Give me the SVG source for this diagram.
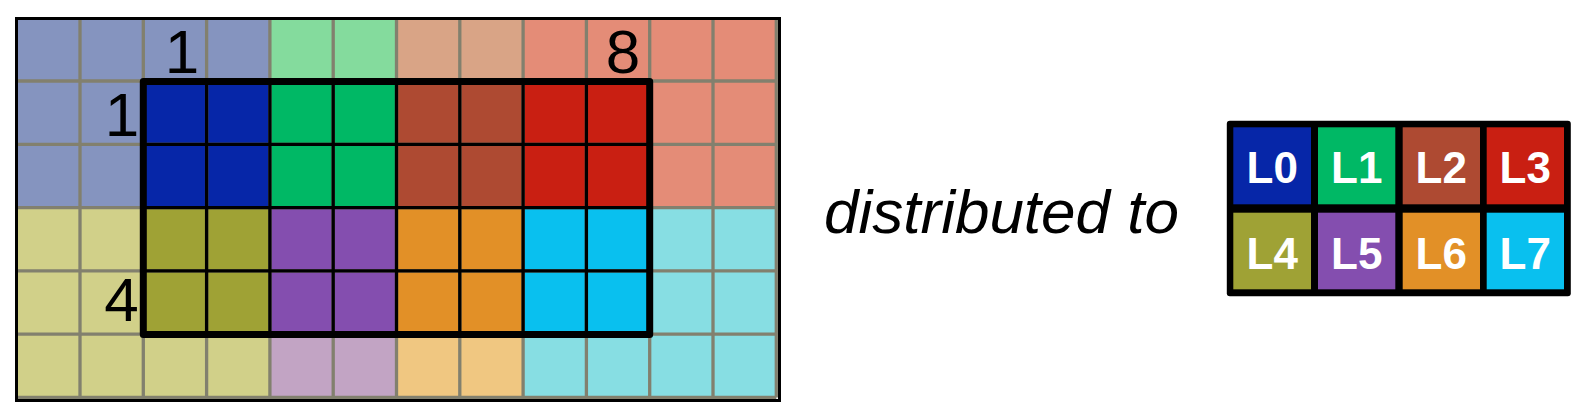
<svg xmlns="http://www.w3.org/2000/svg" width="1586" height="414" viewBox="0 0 1586 414">
<style>
.lb{fill:#8594BF}.lg{fill:#84DB9D}.ln{fill:#D9A486}.lr{fill:#E48C77}
.lo{fill:#D1D089}.lp{fill:#C2A4C4}.lor{fill:#F0C781}.lc{fill:#87DEE3}
.b{fill:#0626A8}.g{fill:#00B865}.n{fill:#AE4A32}.r{fill:#C91F12}
.o{fill:#9FA235}.p{fill:#844EAF}.or{fill:#E29027}.c{fill:#09C0EF}
.gl{stroke:#82806E;stroke-width:3.3;fill:none}
.bl{stroke:#000;stroke-width:3.3;fill:none}
.num{font-family:"Liberation Sans",Arial,sans-serif;font-size:62px;fill:#000;text-anchor:middle}
.lab{font-family:"Liberation Sans",Arial,sans-serif;font-size:44px;font-weight:bold;fill:#fff;text-anchor:middle}
</style>
<rect width="1586" height="414" fill="#fff"/>
<g id="grid">
  <g id="halo">
    <rect class="lb" x="16.7" y="17.7" width="253.2" height="189.9"/>
    <rect class="lg" x="269.9" y="17.7" width="126.6" height="63.3"/>
    <rect class="ln" x="396.5" y="17.7" width="126.6" height="63.3"/>
    <rect class="lr" x="523.1" y="17.7" width="253.2" height="189.9"/>
    <rect class="lo" x="16.7" y="207.6" width="253.2" height="189.9"/>
    <rect class="lp" x="269.9" y="334.2" width="126.6" height="63.3"/>
    <rect class="lor" x="396.5" y="334.2" width="126.6" height="63.3"/>
    <rect class="lc" x="523.1" y="207.6" width="253.2" height="189.9"/>
  </g>
  <g id="owned">
    <rect class="b" x="143.3" y="81" width="126.6" height="126.6"/>
    <rect class="g" x="269.9" y="81" width="126.6" height="126.6"/>
    <rect class="n" x="396.5" y="81" width="126.6" height="126.6"/>
    <rect class="r" x="523.1" y="81" width="126.6" height="126.6"/>
    <rect class="o" x="143.3" y="207.6" width="126.6" height="126.6"/>
    <rect class="p" x="269.9" y="207.6" width="126.6" height="126.6"/>
    <rect class="or" x="396.5" y="207.6" width="126.6" height="126.6"/>
    <rect class="c" x="523.1" y="207.6" width="126.6" height="126.6"/>
  </g>
  <path class="gl" d="M80 17.7V397.5M143.3 17.7V397.5M206.6 17.7V397.5M269.9 17.7V397.5M333.2 17.7V397.5M396.5 17.7V397.5M459.8 17.7V397.5M523.1 17.7V397.5M586.4 17.7V397.5M649.7 17.7V397.5M713 17.7V397.5M776.3 17.7V397.5M16.7 81H776.3M16.7 144.3H776.3M16.7 207.6H776.3M16.7 270.9H776.3M16.7 334.2H776.3M16.7 397.5H776.3"/>
  <path class="bl" d="M206.6 81V334.2M269.9 81V334.2M333.2 81V334.2M396.5 81V334.2M459.8 81V334.2M523.1 81V334.2M586.4 81V334.2M143.3 144.3H649.7M143.3 207.6H649.7M143.3 270.9H649.7"/>
  <rect x="143.3" y="81.5" width="506.4" height="253" fill="none" stroke="#000" stroke-width="7" stroke-linejoin="round"/>
  <rect x="16.5" y="18.5" width="763" height="382" fill="none" stroke="#000" stroke-width="3"/>
  <text class="num" x="182" y="73">1</text>
  <text class="num" x="623" y="73">8</text>
  <text class="num" x="122" y="136">1</text>
  <text class="num" x="121.5" y="321">4</text>
</g>
<text x="824" y="232.7" font-family="'Liberation Sans',Arial,sans-serif" font-size="62" font-style="italic" fill="#000">distributed to</text>
<g id="legend">
  <rect x="1226.8" y="120.7" width="344" height="175.5" rx="3" fill="#000"/>
  <g id="L0"><rect class="b" x="1233.3" y="127.3" width="77.7" height="77"/><text class="lab" x="1272.2" y="182.9">L0</text></g>
  <g id="L1"><rect class="g" x="1318" y="127.3" width="77.3" height="77"/><text class="lab" x="1356.7" y="182.9">L1</text></g>
  <g id="L2"><rect class="n" x="1402.7" y="127.3" width="77.3" height="77"/><text class="lab" x="1441.3" y="182.9">L2</text></g>
  <g id="L3"><rect class="r" x="1486.7" y="127.3" width="77.3" height="77"/><text class="lab" x="1525.3" y="182.9">L3</text></g>
  <g id="L4"><rect class="o" x="1233.3" y="212.7" width="77.7" height="76.6"/><text class="lab" x="1272.2" y="268.5">L4</text></g>
  <g id="L5"><rect class="p" x="1318" y="212.7" width="77.3" height="76.6"/><text class="lab" x="1356.7" y="268.5">L5</text></g>
  <g id="L6"><rect class="or" x="1402.7" y="212.7" width="77.3" height="76.6"/><text class="lab" x="1441.3" y="268.5">L6</text></g>
  <g id="L7"><rect class="c" x="1486.7" y="212.7" width="77.3" height="76.6"/><text class="lab" x="1525.3" y="268.5">L7</text></g>
</g>
</svg>
